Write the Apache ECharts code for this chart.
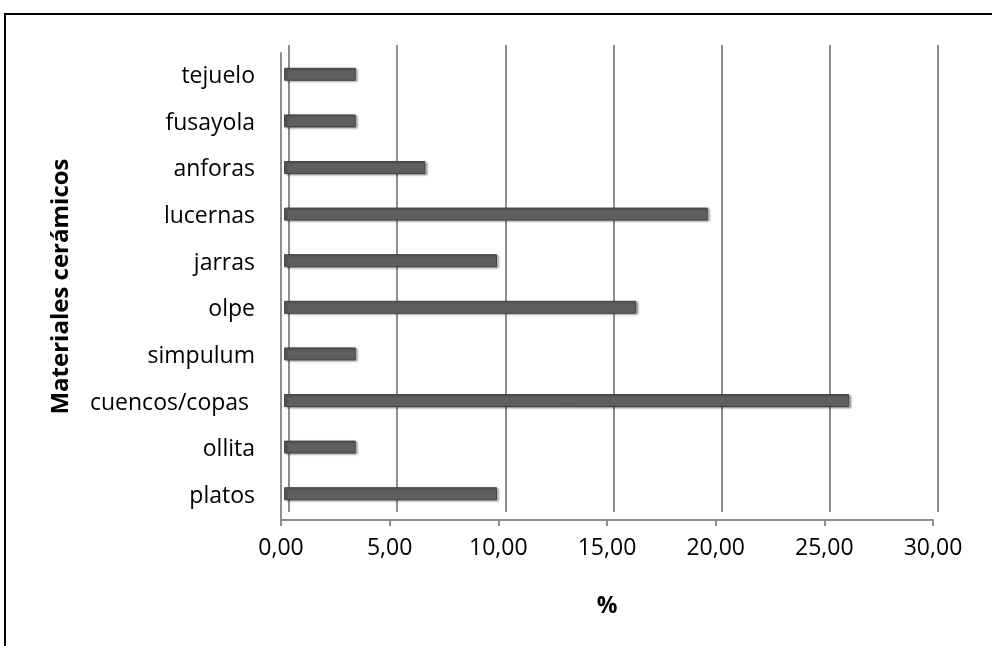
<!DOCTYPE html>
<html>
<head>
<meta charset="utf-8">
<script src="https://cdn.jsdelivr.net/npm/echarts@6/dist/echarts.min.js"></script>
<style>
html, body { margin: 0; padding: 0; background: #fff; }
#chart { width: 992px; height: 646px; }
</style>
</head>
<body>
<div id="chart"></div>
<script>
// categorias (de abajo a arriba)
var categorias = ['platos', 'ollita', 'cuencos/copas ', 'simpulum', 'olpe', 'jarras', 'lucernas', 'anforas', 'fusayola', 'tejuelo'];
var porcentajes = [9.8, 3.3, 26.0, 3.3, 16.2, 9.8, 19.5, 6.5, 3.3, 3.3];
var ticksX = [0, 5, 10, 15, 20, 25, 30];

var gris = '#8e8e8e';
var fuente = 'Open Sans';

var myChart = echarts.init(document.getElementById('chart'));
option = {
	backgroundColor: '#fff',
	animation: false,
	textStyle: { fontFamily: fuente },
	graphic: [{
		// marco negro
		type: 'rect',
		shape: { x: 5, y: 14, width: 1000, height: 700 },
		style: { fill: 'none', stroke: '#000', lineWidth: 2 }
	}],
	grid: [
		// pared del fondo (lineas de division)
		{ left: 289, right: 54, top: 45, bottom: 134 },
		// plano frontal (ejes y etiquetas)
		{ left: 281, right: 59, top: 53, bottom: 126 },
		// barras
		{ left: 284, right: 56, top: 51, bottom: 129 }
	],
	xAxis: [{
		gridIndex: 0,
		type: 'value',
		min: ticksX[0],
		max: ticksX[ticksX.length - 1],
		interval: 5,
		axisLine: { show: false },
		axisTick: { show: false },
		axisLabel: { show: false },
		splitLine: { show: true, lineStyle: { color: gris, width: 2 } }
	}, {
		gridIndex: 1,
		type: 'value',
		min: ticksX[0],
		max: ticksX[ticksX.length - 1],
		interval: 5,
		name: '%',
		nameLocation: 'middle',
		nameGap: 75,
		nameTextStyle: { fontSize: 23, fontWeight: 'bold', color: '#000', fontFamily: fuente },
		axisLine: { show: true, lineStyle: { color: gris, width: 2 } },
		axisTick: { show: true, length: 6, lineStyle: { color: gris, width: 2 } },
		axisLabel: {
			margin: 17,
			fontSize: 23,
			color: '#000',
			fontFamily: fuente,
			formatter: function (v) { return v.toFixed(2).replace('.', ','); }
		},
		splitLine: { show: false }
	}, {
		gridIndex: 2,
		type: 'value',
		min: ticksX[0],
		max: ticksX[ticksX.length - 1],
		show: false
	}],
	yAxis: [{
		gridIndex: 0,
		type: 'category',
		data: categorias,
		show: false
	}, {
		gridIndex: 1,
		type: 'category',
		data: categorias,
		name: 'Materiales cerámicos',
		nameLocation: 'middle',
		nameRotate: 90,
		nameGap: 208,
		nameTextStyle: { fontSize: 24, fontWeight: 'bold', color: '#000', fontFamily: fuente },
		axisLine: { show: true, lineStyle: { color: gris, width: 2 } },
		axisTick: { show: false },
		axisLabel: { margin: 26, fontSize: 23, color: '#000', fontFamily: fuente, padding: [6, 0, 0, 0] },
		splitLine: { show: false }
	}, {
		gridIndex: 2,
		type: 'category',
		data: categorias,
		show: false
	}],
	series: [{
		name: '%',
		type: 'bar',
		xAxisIndex: 2,
		yAxisIndex: 2,
		barWidth: 13,
		data: porcentajes,
		itemStyle: {
			color: '#5f5f5f',
			borderColor: '#454545',
			borderWidth: 1,
			shadowColor: 'rgba(0,0,0,0.35)',
			shadowOffsetX: 2,
			shadowOffsetY: 1,
			shadowBlur: 2
		}
	}]
};
myChart.setOption(option);
</script>
</body>
</html>
